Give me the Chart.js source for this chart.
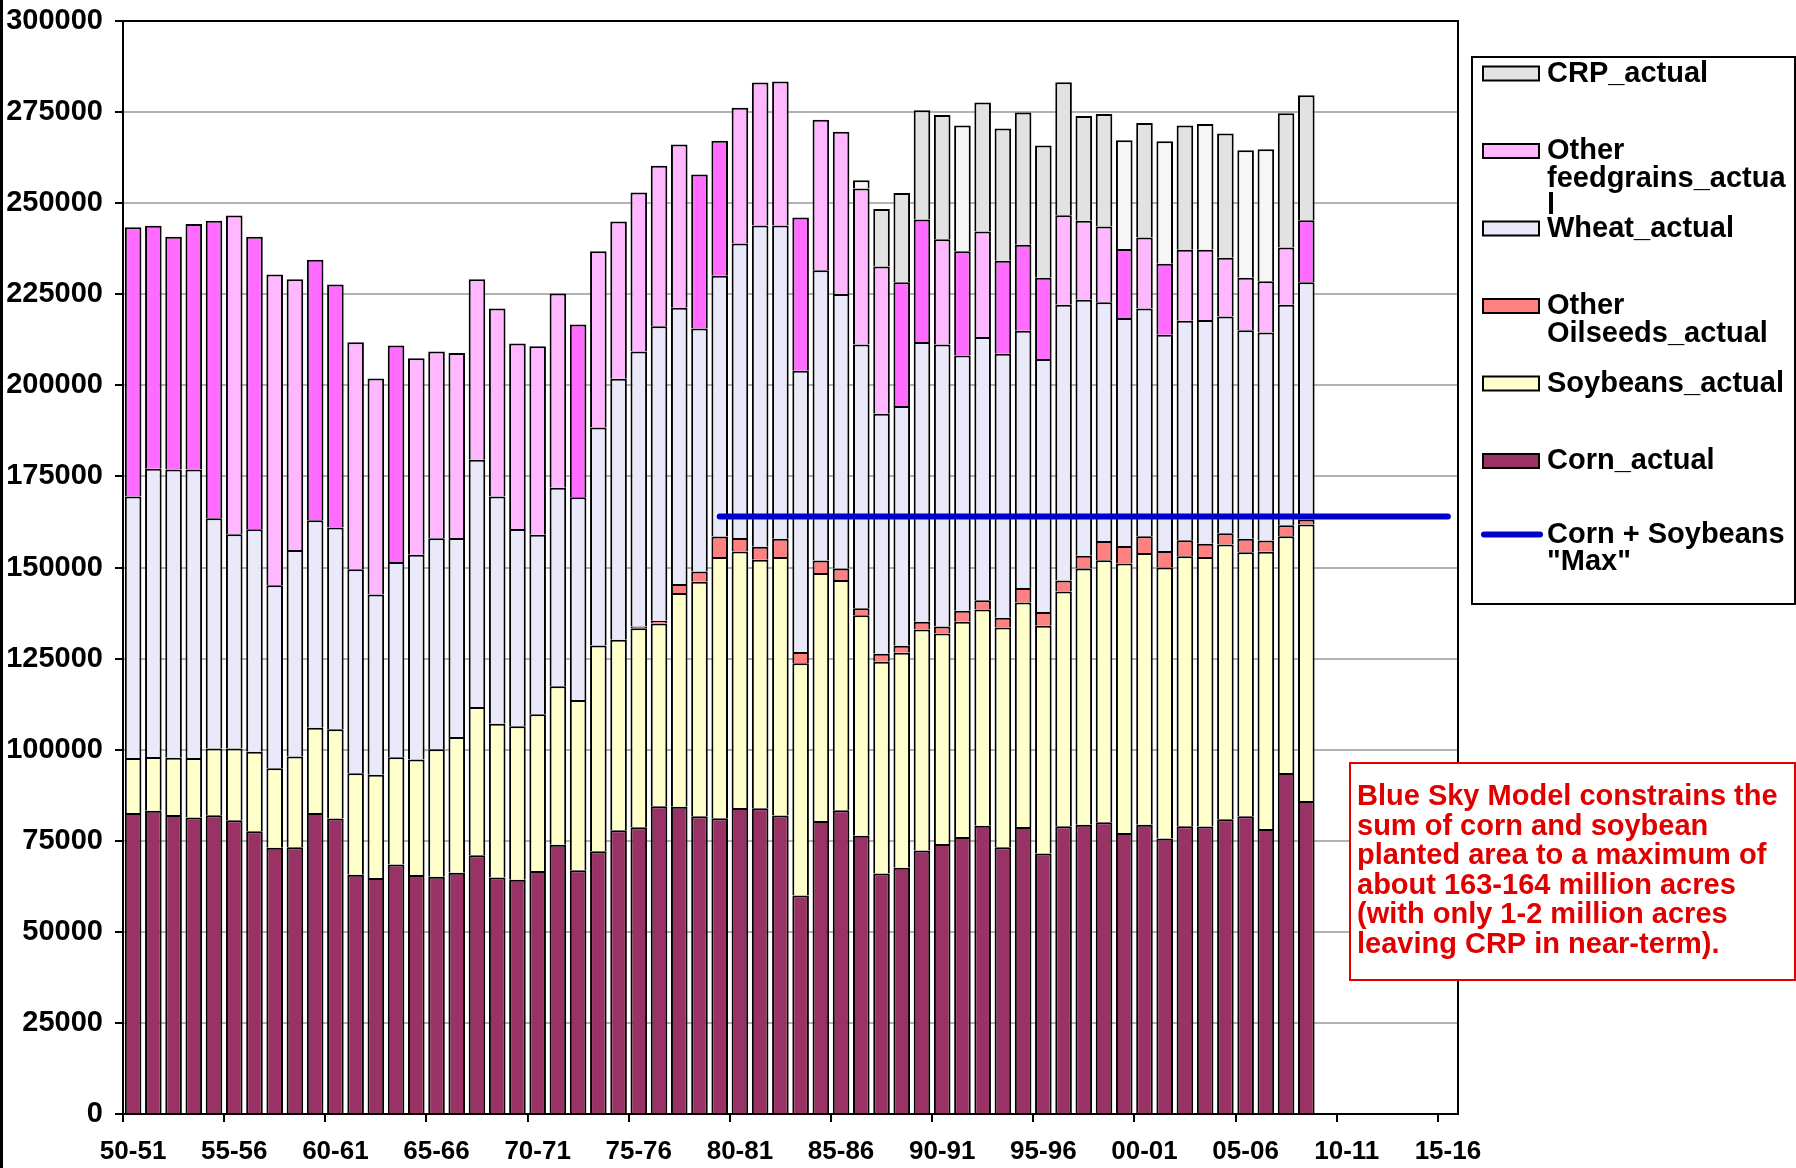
<!DOCTYPE html>
<html>
<head>
<meta charset="utf-8">
<script src="https://cdn.jsdelivr.net/npm/chart.js@4.4.1/dist/chart.umd.min.js"></script>
<style>
html,body{margin:0;padding:0;background:#fff;overflow:hidden}
#wrap{position:relative;width:1796px;height:1168px}
canvas{display:block}
</style>
</head>
<body>
<div id="wrap"><canvas id="c" width="1796" height="1168"></canvas></div>
<script>
// ---------- DATA ----------
const categories = ["50-51","51-52","52-53","53-54","54-55","55-56","56-57","57-58","58-59","59-60",
"60-61","61-62","62-63","63-64","64-65","65-66","66-67","67-68","68-69","69-70",
"70-71","71-72","72-73","73-74","74-75","75-76","76-77","77-78","78-79","79-80",
"80-81","81-82","82-83","83-84","84-85","85-86","86-87","87-88","88-89","89-90",
"90-91","91-92","92-93","93-94","94-95","95-96","96-97","97-98","98-99","99-00",
"00-01","01-02","02-03","03-04","04-05","05-06","06-07","07-08","08-09","09-10",
"10-11","11-12","12-13","13-14","14-15","15-16"];

const corn = [82600,83200,82100,81400,82000,80600,77600,73100,73200,82600,
81100,65700,64800,68500,65600,65100,66200,71000,64900,64300,
66700,73900,66900,72100,77900,78700,84500,84300,81700,81200,
84000,83900,81900,60000,80400,83400,76400,66000,67600,72300,
74100,76000,79100,73200,78800,71500,79000,79400,80100,77100,
79400,75600,79000,78900,80900,81700,78200,93600,85900];

const soybeans = [15100,14800,15700,16300,18300,19700,21800,21800,24900,23400,
24500,27800,28300,29400,31700,35000,37300,40700,42200,42100,
43000,43500,46700,56500,52300,54600,50100,58700,64400,71700,
70400,68200,71000,63700,68100,63200,60500,58100,59000,60700,
57800,59100,59400,60300,61600,62500,64400,70300,71900,74000,
74600,74400,74100,74000,75400,72500,76100,65000,75900];

const otherOilseeds = [null,null,null,null,null,null,null,null,null,null,
null,null,null,null,null,null,null,null,null,null,
null,null,null,null,null,500,800,2500,2800,5600,
3700,3600,5000,3100,3400,3100,1900,2200,1900,2100,
1900,3000,2500,2700,4000,3800,3000,3500,5300,4800,
4600,4500,4400,3600,3100,3700,3100,3000,1400];

const wheat = [71800,79100,79100,79200,63200,58800,61100,50200,56700,57000,
55400,56000,49500,53600,56200,57900,54600,67900,62400,54200,
49300,54500,55700,59800,71600,75500,80800,75800,66700,71600,
80800,88200,86000,77200,79700,75400,72400,65900,65800,76800,
77400,70100,72300,72500,70600,69400,75700,70300,65500,62600,
62500,59400,60200,61400,59500,57200,57100,60500,65100];

const otherFeedgrains = [73900,66700,63900,67400,81700,87500,80300,85300,74300,71500,
66700,62300,59300,59400,53900,51300,50800,49500,51600,50900,
51700,53300,47400,48400,43200,43600,44100,44800,42300,37000,
37300,39200,39500,42100,41300,44500,42800,40400,34000,33600,
28900,28600,28900,25500,23600,22300,24600,21700,20800,18900,
19500,19500,19500,19300,16100,14400,14100,15700,17000];

const crp = [null,null,null,null,null,null,null,null,null,null,
null,null,null,null,null,null,null,null,null,null,
null,null,null,null,null,null,null,null,null,null,
null,null,null,null,null,null,2300,15800,24500,30000,
34100,34500,35400,36300,36300,36300,36500,28700,30900,29900,
31400,33600,34100,34500,34100,35000,36200,36900,34300];

const cornSoyMax = [null,null,null,null,null,null,null,null,null,null,
null,null,null,null,null,null,null,null,null,null,
null,null,null,null,null,null,null,null,null,164000,
164000,164000,164000,164000,164000,164000,164000,164000,164000,164000,
164000,164000,164000,164000,164000,164000,164000,164000,164000,164000,
164000,164000,164000,164000,164000,164000,164000,164000,164000,164000,
164000,164000,164000,164000,164000,164000];

const yTicks = [0,25000,50000,75000,100000,125000,150000,175000,200000,225000,250000,275000,300000];

const legendText = [
  ["CRP_actual"],
  ["Other","feedgrains_actua","l"],
  ["Wheat_actual"],
  ["Other","Oilseeds_actual"],
  ["Soybeans_actual"],
  ["Corn_actual"],
  ["Corn + Soybeans","\"Max\""]
];
const noteLines = [
  "Blue Sky Model constrains the",
  "sum of corn and soybean",
  "planted area to a maximum of",
  "about 163-164 million acres",
  "(with only 1-2 million acres",
  "leaving CRP in near-term)."
];

// ---------- STYLE ----------
const FONT = '"Liberation Sans", Arial, Helvetica, sans-serif';
Chart.defaults.font.family = FONT;
Chart.defaults.font.weight = 'bold';
Chart.defaults.color = '#000';

const C_CORN = '#993366', C_SOY = '#FFFFCC', C_OIL = '#FF8080', C_WHEAT = '#E9E9FA';
const C_FEED_DARK = '#FF6CFF', C_FEED_LIGHT = '#FFB8FF';
const C_CRP_DARK = '#E2E2E2', C_CRP_LIGHT = '#F6F6F6';
const C_MAX = '#0000CC';
const feedDarkIdx = [0,1,2,3,4,6,9,10,13,22,28,29,33,38,39,41,43,44,45,49,51,58];
const crpLightIdx = [36,41,49,51,53,55,56];

const barCommon = {
  type: 'bar', borderColor: '#000', borderWidth: 2, barPercentage: 0.82,
  categoryPercentage: 1.0, order: 1, stack: 'acres'
};

const datasets = [
  Object.assign({label:'Corn_actual', data: corn, backgroundColor: C_CORN}, barCommon),
  Object.assign({label:'Soybeans_actual', data: soybeans, backgroundColor: C_SOY}, barCommon),
  Object.assign({label:'Other Oilseeds_actual', data: otherOilseeds, backgroundColor: C_OIL}, barCommon),
  Object.assign({label:'Wheat_actual', data: wheat, backgroundColor: C_WHEAT}, barCommon),
  Object.assign({label:'Other feedgrains_actual', data: otherFeedgrains,
    backgroundColor: c => feedDarkIdx.includes(c.dataIndex) ? C_FEED_DARK : C_FEED_LIGHT}, barCommon),
  Object.assign({label:'CRP_actual', data: crp,
    backgroundColor: c => crpLightIdx.includes(c.dataIndex) ? C_CRP_LIGHT : C_CRP_DARK}, barCommon),
  {type:'line', label:'Corn + Soybeans "Max"', data: cornSoyMax, borderColor: C_MAX,
   backgroundColor: C_MAX, borderWidth: 6, pointRadius: 0, borderCapStyle: 'round',
   fill: false, tension: 0, order: 0, stack: 'max', spanGaps: false}
];

const legendSwatches = [
  {kind:'box', color: C_CRP_DARK},
  {kind:'box', color: C_FEED_LIGHT},
  {kind:'box', color: C_WHEAT},
  {kind:'box', color: C_OIL},
  {kind:'box', color: C_SOY},
  {kind:'box', color: C_CORN},
  {kind:'line', color: C_MAX}
];

const decor = {
  id: 'decor',
  beforeDraw(chart) {
    const ctx = chart.ctx;
    ctx.save();
    ctx.fillStyle = '#fff';
    ctx.fillRect(0, 0, chart.width, chart.height);
    ctx.restore();
  },
  afterDraw(chart) {
    const ctx = chart.ctx, a = chart.chartArea;
    ctx.save();
    // plot frame
    ctx.strokeStyle = '#000'; ctx.lineWidth = 2;
    ctx.strokeRect(a.left, a.top, a.right - a.left, a.bottom - a.top);
    // outer left edge
    ctx.fillStyle = '#000';
    ctx.fillRect(0, 0, 3, chart.height);

    // legend box
    ctx.fillStyle = '#fff';
    ctx.fillRect(1472, 57, 323, 547);
    ctx.strokeStyle = '#000'; ctx.lineWidth = 2;
    ctx.strokeRect(1472, 57, 323, 547);
    ctx.font = 'bold 29px ' + FONT;
    ctx.textBaseline = 'alphabetic';
    ctx.textAlign = 'left';
    for (let k = 0; k < legendText.length; k++) {
      const top = 66.5 + k * 77.5;
      const sw = legendSwatches[k];
      if (sw.kind === 'box') {
        ctx.fillStyle = sw.color;
        ctx.fillRect(1483, top, 56, 14);
        ctx.strokeStyle = '#000'; ctx.lineWidth = 2;
        ctx.strokeRect(1483, top, 56, 14);
      } else {
        ctx.strokeStyle = sw.color; ctx.lineWidth = 6; ctx.lineCap = 'round';
        ctx.beginPath(); ctx.moveTo(1484, top + 3); ctx.lineTo(1540, top + 3); ctx.stroke();
      }
      ctx.fillStyle = '#000';
      const base = top + (sw.kind === 'box' ? 15 : 11);
      legendText[k].forEach((t, j) => ctx.fillText(t, 1547, base + j * 27.5));
    }

    // note box
    ctx.fillStyle = '#fff';
    ctx.fillRect(1350, 763, 445, 217);
    ctx.strokeStyle = '#E00000'; ctx.lineWidth = 2;
    ctx.strokeRect(1350, 763, 445, 217);
    ctx.fillStyle = '#E00000';
    ctx.font = 'bold 29px ' + FONT;
    noteLines.forEach((t, j) => ctx.fillText(t, 1357, 805 + j * 29.5));
    ctx.restore();
  }
};

new Chart(document.getElementById('c'), {
  data: { labels: categories, datasets: datasets },
  options: {
    responsive: false,
    animation: false,
    events: [],
    layout: { padding: { top: 21, right: 338, bottom: 0, left: 0 } },
    plugins: { legend: { display: false }, tooltip: { enabled: false } },
    scales: {
      x: {
        stacked: true,
        offset: true,
        grid: {
          offset: true, drawOnChartArea: false, drawTicks: true, tickLength: 8, lineWidth: 2,
          color: c => (c.index % 5 === 0 ? '#000' : 'rgba(0,0,0,0)')
        },
        border: { display: true, color: '#000', width: 2 },
        ticks: {
          autoSkip: false, maxRotation: 0, minRotation: 0, padding: 14,
          font: { size: 26, weight: 'bold' }, color: '#000',
          callback: (v, i) => (i % 5 === 0 ? categories[i] : '')
        },
        afterFit: s => { s.height = 54; s.paddingLeft = 0; s.paddingRight = 0; }
      },
      y: {
        stacked: true,
        min: 0, max: 300000,
        afterBuildTicks: s => { s.ticks = yTicks.map(v => ({value: v})); },
        ticks: {
          padding: 12, font: { size: 29, weight: 'bold' }, color: '#000',
          callback: v => String(v)
        },
        grid: { color: '#B2B2B2', lineWidth: 2, tickLength: 8, tickColor: '#000', drawTicks: true },
        border: { display: true, color: '#000', width: 2 },
        afterFit: s => { s.width = 123; s.paddingTop = 0; s.paddingBottom = 0; }
      }
    }
  },
  plugins: [decor]
});
</script>
</body>
</html>
